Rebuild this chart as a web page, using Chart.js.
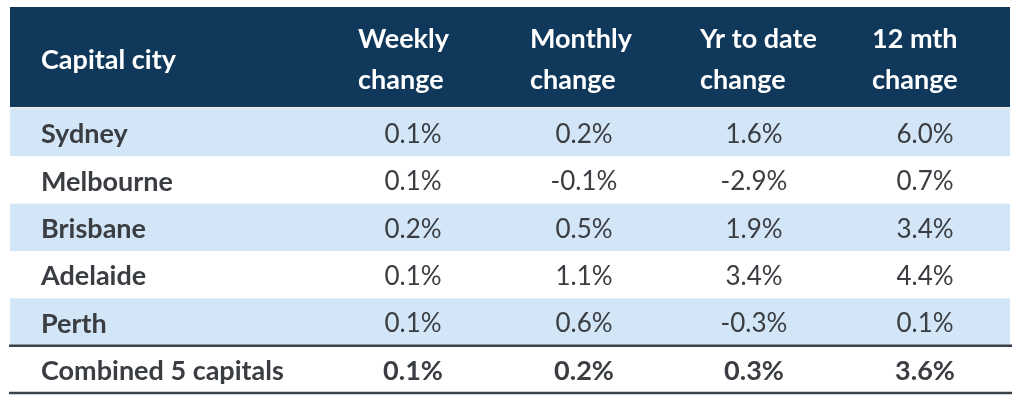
<!DOCTYPE html>
<html>
<head>
<meta charset="utf-8">
<script src="https://cdn.jsdelivr.net/npm/chart.js@4.4.1/dist/chart.umd.min.js"></script>
<style>
  html, body { margin: 0; padding: 0; background: #fff; }
  #wrap { width: 1024px; height: 409px; }
</style>
</head>
<body>
<div id="wrap"><canvas id="chart" width="1024" height="409"></canvas></div>
<script>
// table data
const headerCity = 'Capital city';
const headers = [['Weekly', 'change'], ['Monthly', 'change'], ['Yr to date', 'change'], ['12 mth', 'change']];
const cities = ['Sydney', 'Melbourne', 'Brisbane', 'Adelaide', 'Perth'];
const weekly = [0.1, 0.1, 0.2, 0.1, 0.1];
const monthly = [0.2, -0.1, 0.5, 1.1, 0.6];
const yrToDate = [1.6, -2.9, 1.9, 3.4, -0.3];
const twelveMth = [6.0, 0.7, 3.4, 4.4, 0.1];
const totalLabel = 'Combined 5 capitals';
const totalValues = [0.1, 0.2, 0.3, 3.6];

const columns = [weekly, monthly, yrToDate, twelveMth];

// layout (x in table units, y in row units)
const cityX = 31;
const headX = [348, 520, 690, 862];
const valX = [403, 574, 744, 915];
const headTop = -2.15;
const FONT = 'Lato, "Open Sans", sans-serif';
const NAVY = '#0f385b';
const STRIPE = '#d3e6f7';
const TEXT = '#3a3d41';
const RULE = '#39424b';

const fmt = v => v.toFixed(1) + '%';

const tablePlugin = {
  id: 'table',
  beforeDatasetsDraw(chart) {
    const { ctx, scales: { x, y } } = chart;
    const left = x.getPixelForValue(0), right = x.getPixelForValue(1000);
    ctx.save();
    // header band
    ctx.fillStyle = NAVY;
    ctx.fillRect(left, y.getPixelForValue(headTop), right - left, y.getPixelForValue(-0.04) - y.getPixelForValue(headTop));
    // striped rows
    cities.forEach((c, i) => {
      if (i % 2 === 0) {
        ctx.fillStyle = STRIPE;
        const t = y.getPixelForValue(i), b = y.getPixelForValue(i + 1);
        ctx.fillRect(left, t, right - left, b - t);
      }
    });
    ctx.restore();
  },
  afterDatasetsDraw(chart) {
    const { ctx, scales: { x, y } } = chart;
    const left = x.getPixelForValue(-1), right = x.getPixelForValue(1002);
    ctx.save();
    ctx.textBaseline = 'middle';
    // header text
    ctx.fillStyle = '#ffffff';
    ctx.font = 'bold 27px ' + FONT;
    ctx.textAlign = 'left';
    ctx.fillText(headerCity, x.getPixelForValue(cityX), y.getPixelForValue(headTop / 2) + 2);
    headers.forEach((h, j) => {
      ctx.fillText(h[0], x.getPixelForValue(headX[j]), y.getPixelForValue(headTop * 0.7) + 2);
      ctx.fillText(h[1], x.getPixelForValue(headX[j]), y.getPixelForValue(headTop * 0.3) + 2);
    });
    // body rows
    cities.forEach((c, i) => {
      const cy = y.getPixelForValue(i + 0.5) + 2;
      ctx.fillStyle = TEXT;
      ctx.textAlign = 'left';
      ctx.font = 'bold 27px ' + FONT;
      ctx.fillText(c, x.getPixelForValue(cityX), cy);
      ctx.textAlign = 'center';
      ctx.font = '26px ' + FONT;
      columns.forEach((col, j) => ctx.fillText(fmt(col[i]), x.getPixelForValue(valX[j]), cy));
    });
    // total row
    const ty = y.getPixelForValue(cities.length + 0.5) + 2;
    ctx.font = 'bold 27px ' + FONT;
    ctx.textAlign = 'left';
    ctx.fillText(totalLabel, x.getPixelForValue(cityX), ty);
    ctx.textAlign = 'center';
    totalValues.forEach((v, j) => ctx.fillText(fmt(v), x.getPixelForValue(valX[j]), ty));
    // rules
    ctx.strokeStyle = '#e6e8ea';
    ctx.lineWidth = 2;
    ctx.beginPath();
    ctx.moveTo(x.getPixelForValue(0), y.getPixelForValue(-0.02));
    ctx.lineTo(x.getPixelForValue(1000), y.getPixelForValue(-0.02));
    ctx.stroke();
    ctx.strokeStyle = RULE;
    ctx.lineWidth = 2.5;
    [cities.length, cities.length + 1].forEach(r => {
      ctx.beginPath();
      ctx.moveTo(left, y.getPixelForValue(r));
      ctx.lineTo(right, y.getPixelForValue(r));
      ctx.stroke();
    });
    ctx.restore();
  }
};

new Chart(document.getElementById('chart'), {
  type: 'scatter',
  data: { datasets: [{ data: [], pointRadius: 0 }] },
  options: {
    responsive: false,
    animation: false,
    events: [],
    layout: { padding: { left: 10, right: 14, top: 7, bottom: 14 } },
    plugins: { legend: { display: false }, tooltip: { enabled: false } },
    scales: {
      x: { type: 'linear', min: 0, max: 1000, display: false },
      y: { type: 'linear', min: headTop, max: 6.04, reverse: true, display: false }
    }
  },
  plugins: [tablePlugin]
});
</script>
</body>
</html>
